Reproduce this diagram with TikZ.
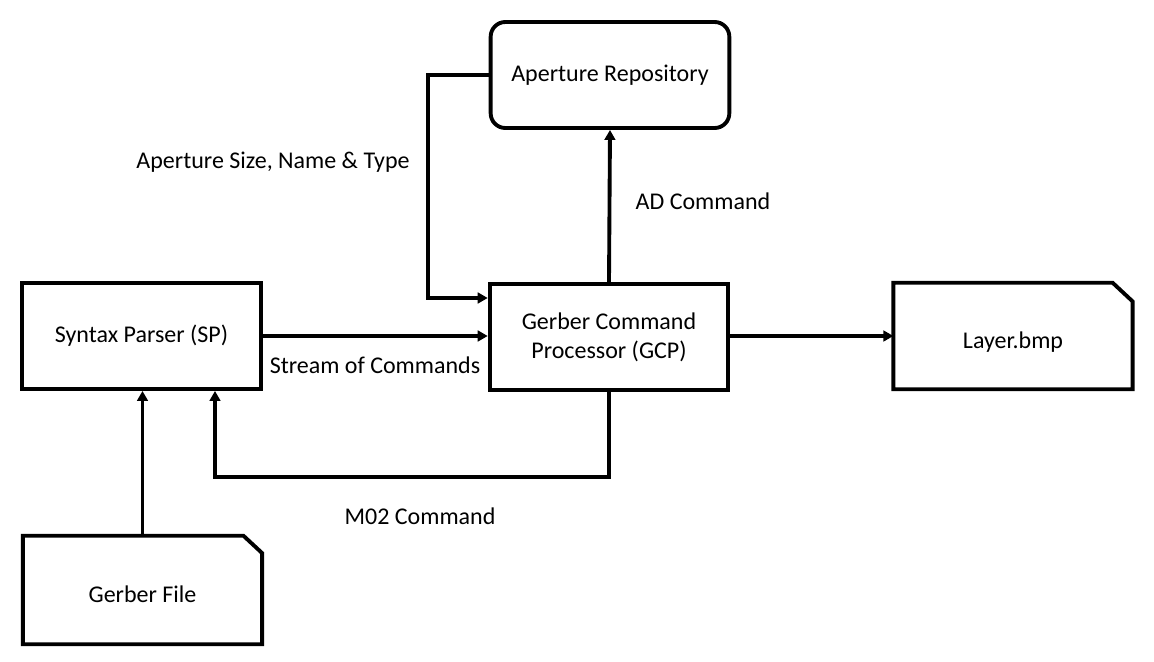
\documentclass[tikz,border=0pt]{standalone}
\usepackage{fontspec}
\setmainfont{Carlito}
\usetikzlibrary{arrows.meta}
\begin{document}
\begin{tikzpicture}[x=0.75pt,y=-0.75pt,
  every node/.style={font=\fontsize{18}{21.5}\selectfont},
  box/.style={draw, line width=2.9pt, minimum width=179pt, minimum height=79.5pt, inner sep=0pt},
  docbox/.style={minimum width=179pt, minimum height=79.5pt, inner sep=0pt},
  rbox/.style={box, rounded corners=11pt},
  lbl/.style={inner sep=1pt},
  conn/.style={line width=2.9pt, -{Triangle[length=7.5pt,width=8pt]}},
  plain/.style={line width=2.9pt}
]
\useasboundingbox (0,0) rectangle (1154,661);
% nodes
\node[rbox] (ar) at (610,75) {Aperture Repository};
\node[box] (sp) at (141.5,336) {Syntax Parser (SP)};
\node[box, align=center] (gcp) at (609,337) {Gerber Command\\Processor (GCP)};
\node[docbox] (lay) at (1013,336) {};
\node[docbox, minimum height=81pt] (gf) at (142.5,590) {};
\node (layt) at (1013,342) {Layer.bmp};
\node (gft) at (142.5,594) {Gerber File};
% document outlines
\draw[plain, line join=miter] (lay.south west) -- (lay.north west) -- ([xshift=-15pt]lay.north east) -- ([yshift=-14pt]lay.north east) -- (lay.south east) -- cycle;
\draw[plain, line join=miter] (gf.south west) -- (gf.north west) -- ([xshift=-14pt]gf.north east) -- ([yshift=-13pt]gf.north east) -- (gf.south east) -- cycle;
% helper coordinates
\coordinate (c1) at (428,298);
\coordinate (c2) at (215,477);
% connectors
\draw[conn] (ar.west) -| (c1) -- (c1 -| gcp.west);
\draw[conn] (gcp.north) -- (ar.south);
\draw[conn] (sp.east) -- (gcp.west |- sp.east);
\draw[conn] (gcp.east |- lay.west) -- (lay.west);
\draw[conn] (gcp.south) |- (c2) -- (c2 |- sp.south);
\draw[conn] (gf.north) -- (gf.north |- sp.south);
% labels
\node[lbl] (l1) at (273,162) {Aperture Size, Name \& Type};
\node[lbl] (l2) at (703,201) {AD Command};
\node[lbl] (l3) at (375,365) {Stream of Commands};
\node[lbl] (l4) at (420,516) {M02 Command};
\end{tikzpicture}
\end{document}
